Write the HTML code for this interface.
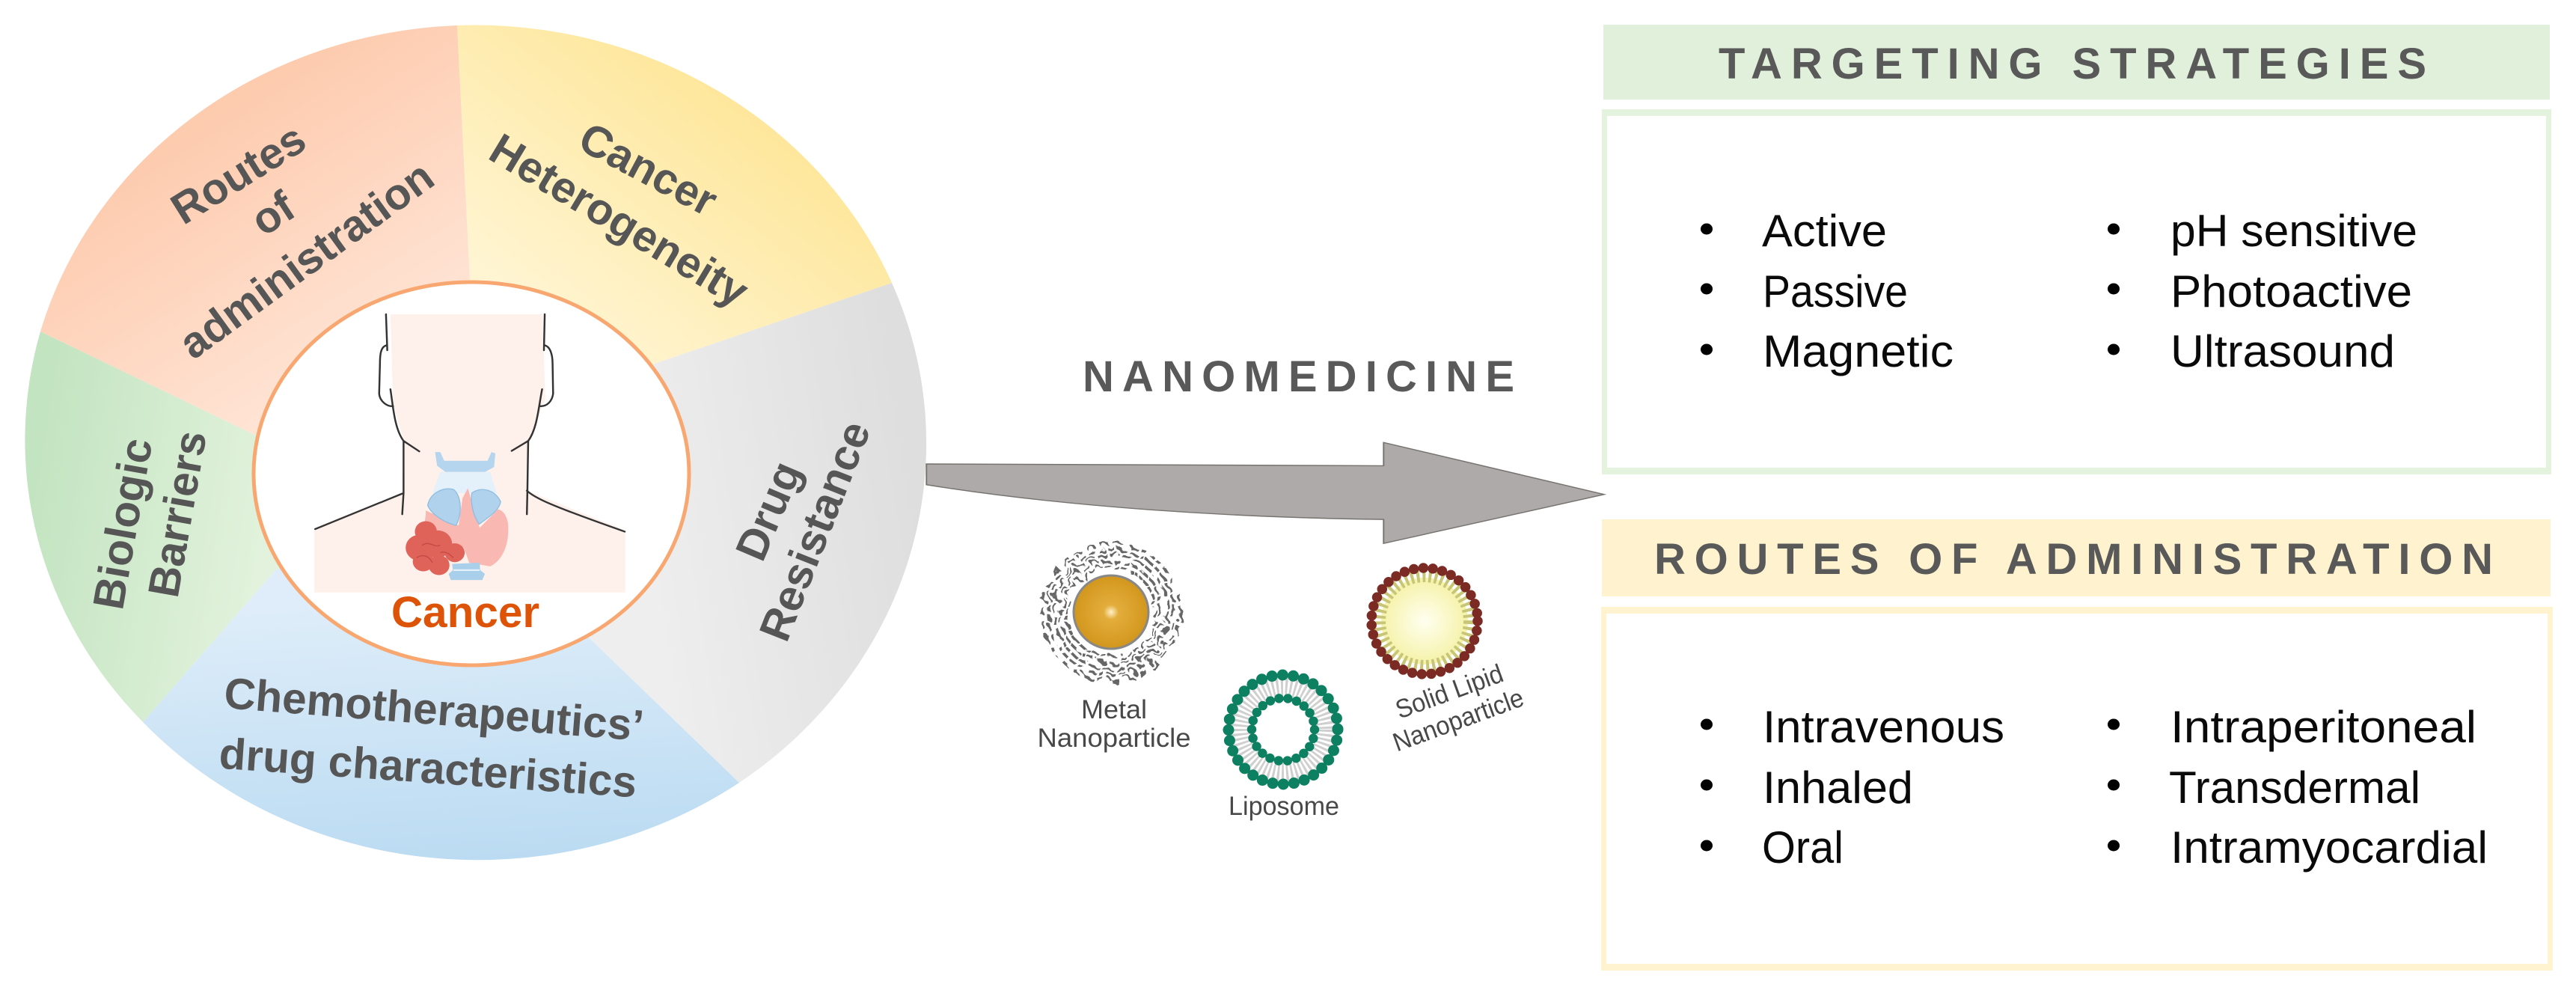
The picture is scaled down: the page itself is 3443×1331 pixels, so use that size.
<!DOCTYPE html>
<html>
<head>
<meta charset="utf-8">
<style>
html,body{margin:0;padding:0;background:#fff;width:3443px;height:1331px;overflow:hidden}
svg{display:block}
text{font-family:"Liberation Sans",sans-serif}
.w{font-weight:bold;font-size:58.5px;fill:#565656;text-anchor:middle}
.h{font-weight:bold;font-size:58px;fill:#595959}
.l{font-size:60px;fill:#0a0a0a}
.s{font-size:35px;fill:#484848;text-anchor:middle}
</style>
</head>
<body>
<svg width="3443" height="1331" viewBox="0 0 3443 1331" xmlns="http://www.w3.org/2000/svg">
<defs>
<linearGradient id="gO" gradientUnits="userSpaceOnUse" x1="330" y1="120" x2="560" y2="480"><stop offset="0" stop-color="#fdcbae"/><stop offset="1" stop-color="#ffe6d8"/></linearGradient>
<linearGradient id="gY" gradientUnits="userSpaceOnUse" x1="1000" y1="150" x2="760" y2="460"><stop offset="0" stop-color="#fee79c"/><stop offset="1" stop-color="#fff5d3"/></linearGradient>
<linearGradient id="gG" gradientUnits="userSpaceOnUse" x1="1230" y1="680" x2="860" y2="740"><stop offset="0" stop-color="#dedede"/><stop offset="1" stop-color="#eeeeee"/></linearGradient>
<linearGradient id="gB" gradientUnits="userSpaceOnUse" x1="620" y1="1150" x2="600" y2="800"><stop offset="0" stop-color="#bbdbf2"/><stop offset="1" stop-color="#deedf9"/></linearGradient>
<linearGradient id="gGr" gradientUnits="userSpaceOnUse" x1="40" y1="680" x2="350" y2="730"><stop offset="0" stop-color="#c3e4c1"/><stop offset="1" stop-color="#e2f2dc"/></linearGradient>
<radialGradient id="gold"><stop offset="0" stop-color="#fff2c8"/><stop offset=".2" stop-color="#e3ad3c"/><stop offset="1" stop-color="#d2961c"/></radialGradient>
<radialGradient id="core"><stop offset="0" stop-color="#fffff0"/><stop offset="1" stop-color="#f5f2a8"/></radialGradient>
<filter id="sq" x="-20%" y="-20%" width="140%" height="140%"><feTurbulence type="fractalNoise" baseFrequency="0.07" numOctaves="2" seed="7"/><feDisplacementMap in="SourceGraphic" scale="20"/></filter>
</defs>

<!-- wheel -->
<path d="M54,443 A603.5,559.5 0 0 1 611,34 L628,373 L630,633 L338,580 Z" fill="url(#gO)"/>
<path d="M611,34 A603.5,559.5 0 0 1 1192,378 L875,486 L630,633 L628,373 Z" fill="url(#gY)"/>
<path d="M1192,378 A603.5,559.5 0 0 1 988,1046 L788,853 L630,633 L875,486 Z" fill="url(#gG)"/>
<path d="M988,1046 A603.5,559.5 0 0 1 191,965 L369,761 L630,633 L788,853 Z" fill="url(#gB)"/>
<path d="M191,965 A603.5,559.5 0 0 1 54,443 L338,580 L630,633 L369,761 Z" fill="url(#gGr)"/>
<ellipse cx="630" cy="633" rx="291" ry="256" fill="#fff" stroke="#f9a771" stroke-width="5"/>

<!-- wheel labels -->
<text class="w" transform="translate(319,233) rotate(-32)" y="19">Routes</text>
<text class="w" transform="translate(365,286) rotate(-33)" y="19">of</text>
<text class="w" transform="translate(410,348) rotate(-36)" y="19">administration</text>
<text class="w" transform="translate(866,227) rotate(28)" y="19">Cancer</text>
<text class="w" transform="translate(827,295) rotate(31)" y="19">Heterogeneity</text>
<text class="w" transform="translate(165,700) rotate(-80)" y="19">Biologic</text>
<text class="w" transform="translate(238,687) rotate(-80)" y="19">Barriers</text>
<text class="w" transform="translate(1028,683) rotate(-67)" y="19">Drug</text>
<text class="w" transform="translate(1090,710) rotate(-68.5)" y="19">Resistance</text>
<text class="w" transform="translate(580,949) rotate(4.5)" y="19">Chemotherapeutics’</text>
<text class="w" transform="translate(572,1027) rotate(4)" y="19">drug characteristics</text>

<!-- neck illustration -->
<g transform="translate(350,400) scale(.3507,.332)">
<path d="M490,60 L1070,60 L1080,400 L1020,570 L1010,770 L1385,930 L1385,1180 L200,1180 L200,920 L535,780 L540,570 L500,420 Z" fill="#fef1ec"/>
<g fill="none" stroke="#333" stroke-width="7" stroke-linecap="round" stroke-linejoin="round">
<path d="M473,60 L478,205"/>
<path d="M476,185 C452,190 450,225 450,260 L447,380 C450,412 478,432 500,430"/>
<path d="M490,362 C500,430 505,520 540,570 L600,612"/>
<path d="M540,570 L540,780 L535,865"/>
<path d="M535,782 L203,925"/>
<path d="M1078,60 L1075,205"/>
<path d="M1077,185 C1100,190 1108,225 1108,260 L1110,380 C1106,412 1085,432 1060,430"/>
<path d="M1068,362 C1055,430 1050,520 1015,570 L952,610"/>
<path d="M1015,570 L1012,770 L1010,865"/>
<path d="M1010,770 C1040,800 1100,830 1383,935"/>
</g>
<path d="M660,615 L680,615 L695,650 L860,650 L875,615 L890,620 L885,675 L850,695 L700,695 L668,670 Z" fill="#b5d5ee"/>
<path d="M680,695 L870,695 L895,780 L650,780 Z" fill="#e4f0fa"/>
<path d="M625,850 C625,900 610,930 590,950 L770,1000 L790,1060 L870,1075 C920,1050 945,980 938,900 C930,860 915,850 900,845 L830,920 L785,760 L765,800 L750,910 Z" fill="#f9b8b2"/>
<path d="M632,830 C640,780 690,755 730,765 C760,790 765,860 740,910 C700,900 650,870 632,830 Z" fill="#b0d2ec" stroke="#8fbfe3" stroke-width="4"/>
<path d="M800,780 C840,750 890,770 910,815 C905,850 860,880 828,905 C805,870 795,820 800,780 Z" fill="#b0d2ec" stroke="#8fbfe3" stroke-width="4"/>
<g fill="#e0635a">
<circle cx="625" cy="935" r="42"/><circle cx="600" cy="1000" r="52"/><circle cx="670" cy="985" r="55"/>
<circle cx="735" cy="1020" r="38"/><circle cx="675" cy="1070" r="40"/><circle cx="615" cy="1055" r="40"/>
</g>
<g fill="none" stroke="#c24a42" stroke-width="4">
<path d="M610,990 C640,970 650,1000 680,990"/><path d="M590,1040 C620,1020 640,1040 650,1060"/><path d="M680,1020 C700,1010 720,1030 730,1040"/>
</g>
<path d="M725,1065 L830,1060 L832,1090 L850,1105 L840,1130 L720,1130 L712,1105 L728,1090 Z" fill="#a9cfea"/>
<path d="M730,1090 L830,1090" stroke="#e4f0fa" stroke-width="7"/>
</g>
<text x="622" y="838" font-size="58.5" font-weight="bold" fill="#dd5408" text-anchor="middle">Cancer</text>

<!-- arrow -->
<g transform="translate(1200,400) scale(.6378,.4783)">
<path d="M60,460 L1018,465 L1018,400 L1480,545 L1018,682 L1018,615 C700,610 350,580 60,518 Z" fill="#aeaaaa" stroke="#77736f" stroke-width="3"/>
</g>
<text class="h" x="1447" y="523" textLength="577">NANOMEDICINE</text>

<!-- metal NP -->
<g filter="url(#sq)" fill="none" stroke="#666" stroke-width="3.5">
<circle cx="1485" cy="818" r="92" stroke-dasharray="11 8"/>
<circle cx="1485" cy="818" r="84" stroke-dasharray="9 5"/>
<circle cx="1485" cy="818" r="76" stroke-dasharray="13 4"/>
<circle cx="1485" cy="818" r="68" stroke-dasharray="10 4"/>
<circle cx="1485" cy="818" r="60" stroke-dasharray="8 3"/>
</g>
<ellipse cx="1485" cy="818" rx="50" ry="49" fill="url(#gold)" stroke="#888" stroke-width="3"/>
<text class="s" x="1489" y="960" textLength="88" lengthAdjust="spacingAndGlyphs">Metal</text>
<text class="s" x="1489" y="998" textLength="205" lengthAdjust="spacingAndGlyphs">Nanoparticle</text>

<!-- liposome -->
<circle cx="1715" cy="975" r="58" fill="none" stroke="#cfcfcf" stroke-width="26" stroke-dasharray="3 3"/>
<circle cx="1715" cy="975" r="73" fill="none" stroke="#0e8062" stroke-width="15" stroke-linecap="round" stroke-dasharray="0 14.3"/>
<circle cx="1715" cy="975" r="42" fill="none" stroke="#0e8062" stroke-width="12.5" stroke-linecap="round" stroke-dasharray="0 12"/>
<text class="s" x="1716" y="1089" textLength="148" lengthAdjust="spacingAndGlyphs">Liposome</text>

<!-- SLN -->
<circle cx="1904" cy="830" r="58" fill="url(#core)"/>
<circle cx="1904" cy="830" r="60" fill="none" stroke="#c6c578" stroke-width="16" stroke-dasharray="4 4"/>
<circle cx="1904" cy="830" r="71" fill="none" stroke="#7b2b24" stroke-width="13.5" stroke-linecap="round" stroke-dasharray="0 12.8"/>
<text class="s" transform="translate(1937,924) rotate(-20)" y="12" textLength="150" lengthAdjust="spacingAndGlyphs">Solid Lipid</text>
<text class="s" transform="translate(1949,962) rotate(-20)" y="12" textLength="183" lengthAdjust="spacingAndGlyphs">Nanoparticle</text>

<!-- green panel -->
<rect x="2143" y="33" width="1265" height="100" fill="#e0f0db"/>
<text class="h" x="2297" y="105" textLength="946">TARGETING STRATEGIES</text>
<path fill-rule="evenodd" d="M2141,146 H3410 V634 H2141 Z M2148,155 V625 H3403 V155 Z" fill="#e3f3dd"/>
<g fill="#000">
<ellipse cx="2281" cy="306" rx="8" ry="7.5"/><ellipse cx="2281" cy="386" rx="8" ry="7.5"/><ellipse cx="2281" cy="467" rx="8" ry="7.5"/>
<ellipse cx="2825" cy="306" rx="8" ry="7.5"/><ellipse cx="2825" cy="386" rx="8" ry="7.5"/><ellipse cx="2825" cy="467" rx="8" ry="7.5"/>
</g>
<text class="l" x="2355" y="329" textLength="167" lengthAdjust="spacingAndGlyphs">Active</text>
<text class="l" x="2356" y="410" textLength="194" lengthAdjust="spacingAndGlyphs">Passive</text>
<text class="l" x="2356" y="490" textLength="255" lengthAdjust="spacingAndGlyphs">Magnetic</text>
<text class="l" x="2901" y="329" textLength="330" lengthAdjust="spacingAndGlyphs">pH sensitive</text>
<text class="l" x="2901" y="410" textLength="323" lengthAdjust="spacingAndGlyphs">Photoactive</text>
<text class="l" x="2901" y="490" textLength="300" lengthAdjust="spacingAndGlyphs">Ultrasound</text>

<!-- yellow panel -->
<rect x="2141" y="694" width="1268" height="103" fill="#fff2cf"/>
<text class="h" x="2211" y="767" textLength="1121">ROUTES OF ADMINISTRATION</text>
<path fill-rule="evenodd" d="M2140,811 H3412 V1297 H2140 Z M2147,820 V1288 H3405 V820 Z" fill="#fff3d0"/>
<g fill="#000">
<ellipse cx="2281" cy="968" rx="8" ry="7.5"/><ellipse cx="2281" cy="1049" rx="8" ry="7.5"/><ellipse cx="2281" cy="1130" rx="8" ry="7.5"/>
<ellipse cx="2825" cy="968" rx="8" ry="7.5"/><ellipse cx="2825" cy="1049" rx="8" ry="7.5"/><ellipse cx="2825" cy="1130" rx="8" ry="7.5"/>
</g>
<text class="l" x="2356" y="992" textLength="323" lengthAdjust="spacingAndGlyphs">Intravenous</text>
<text class="l" x="2356" y="1073" textLength="201" lengthAdjust="spacingAndGlyphs">Inhaled</text>
<text class="l" x="2355" y="1153" textLength="109" lengthAdjust="spacingAndGlyphs">Oral</text>
<text class="l" x="2901" y="992" textLength="409" lengthAdjust="spacingAndGlyphs">Intraperitoneal</text>
<text class="l" x="2899" y="1073" textLength="336" lengthAdjust="spacingAndGlyphs">Transdermal</text>
<text class="l" x="2901" y="1153" textLength="424" lengthAdjust="spacingAndGlyphs">Intramyocardial</text>
</svg>
</body>
</html>
